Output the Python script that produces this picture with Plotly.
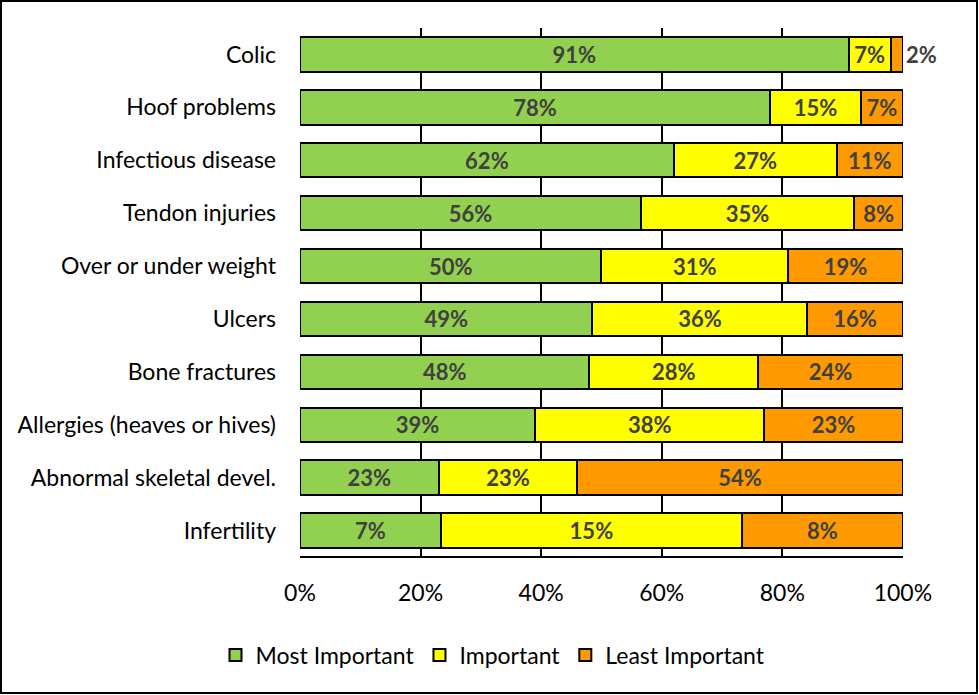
import plotly.graph_objects as go

# ─── data ─────────────────────────────────────────────────────────────────────
categories = ["Colic", "Hoof problems", "Infectious disease", "Tendon injuries",
              "Over or under weight", "Ulcers", "Bone fractures",
              "Allergies (heaves or hives)", "Abnormal skeletal devel.", "Infertility"]
most_important = [91, 78, 62, 56, 50, 49, 48, 39, 23, 7]
important = [7, 15, 27, 35, 31, 36, 28, 38, 23, 15]
least_important = [2, 7, 11, 8, 19, 16, 24, 23, 54, 8]
tick_vals = [0, 20, 40, 60, 80, 100]
tick_text = ["0%", "20%", "40%", "60%", "80%", "100%"]

series = [
    ("Most Important", most_important, "#92D050"),
    ("Important", important, "#FFFF00"),
    ("Least Important", least_important, "#FF9900"),
]

FONT = "Lato, Carlito, Calibri, sans-serif"
LABEL_COLOR = "#404040"
TXT = 22

fig = go.Figure()
for name, vals, color in series:
    if name == "Least Important":
        # the tiny Colic slice gets its label outside the bar
        pos = ["outside" if c == "Colic" else "inside" for c in categories]
    else:
        pos = "inside"
    fig.add_trace(go.Bar(
        name=name, y=categories, x=vals, orientation="h",
        marker=dict(color=color, line=dict(color="black", width=2)),
        text=[f"{v}%" for v in vals], textposition=pos,
        insidetextanchor="middle", cliponaxis=False, constraintext="none",
        textfont=dict(family=FONT, size=TXT, color=LABEL_COLOR, weight="bold"),
        outsidetextfont=dict(family=FONT, size=TXT, color=LABEL_COLOR, weight="bold"),
    ))

W, H = 979, 695
L, R, T, B = 300, 76, 28, 138
pw, ph = W - L - R, H - T - B

fig.update_layout(
    width=W, height=H,
    barmode="stack", barnorm="percent", bargap=0.35,
    plot_bgcolor="white", paper_bgcolor="white",
    font=dict(family=FONT, size=23, color="black"),
    margin=dict(l=L, r=R, t=T, b=B),
    uniformtext=dict(minsize=TXT, mode="show"),
    xaxis=dict(range=[0, 100.02], tickvals=tick_vals, ticktext=tick_text,
               showgrid=True, gridcolor="black", gridwidth=2, zeroline=False,
               showline=False, ticks="", ticklabelstandoff=20, fixedrange=True),
    yaxis=dict(categoryorder="array", categoryarray=categories[::-1],
               showgrid=False, zeroline=False, ticks="", ticklabelstandoff=23),
    legend=dict(orientation="h", x=(493 - L) / pw, xanchor="center",
                y=-(655 - T - ph) / ph, yanchor="middle",
                font=dict(size=23), itemwidth=30, traceorder="normal"),
    shapes=[
        # bottom edge of plot area
        dict(type="line", xref="paper", yref="paper", x0=0, x1=1, y0=0, y1=0,
             line=dict(color="black", width=2)),
        # outer chart frame
        dict(type="rect", xref="paper", yref="paper",
             x0=-(L - 1) / pw, x1=1 + (R - 2) / pw,
             y0=-(B - 2) / ph, y1=1 + (T - 1) / ph,
             line=dict(color="black", width=2)),
    ],
)

fig.write_html("out.html", config={"displayModeBar": False},
               post_script="document.body.style.margin='0';")
